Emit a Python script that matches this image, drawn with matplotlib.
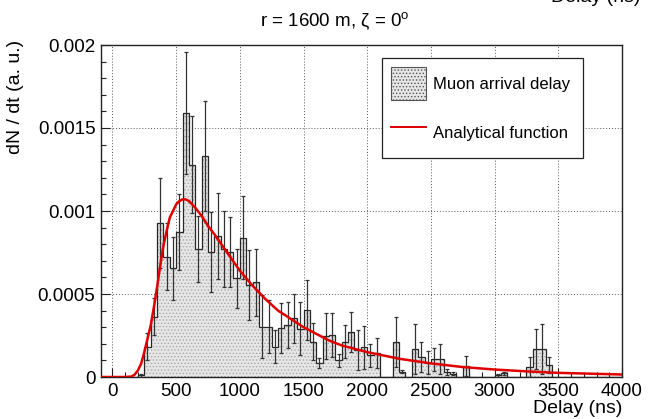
import numpy as np
import matplotlib
matplotlib.use("Agg")
import matplotlib.pyplot as plt
from matplotlib.ticker import MultipleLocator, FixedLocator
from matplotlib.patches import Patch
from matplotlib.lines import Line2D

plt.rcParams['font.family'] = ['Liberation Sans', 'DejaVu Sans']
plt.rcParams['hatch.linewidth'] = 0.6

# ---------------- data ----------------
bin_edges_start = 0
bin_width = 50
hist_values = [
    0, 0, 0, 0, 0.00001, 0.000183, 0.000363, 0.000926, 0.000725, 0.000655,   # 0-450
    0.000875, 0.00159, 0.00128, 0.00077, 0.00133, 0.000755, 0.00085, 0.00077, 0.000755, 0.000594,  # 500-950
    0.00084, 0.000554, 0.00057, 0.000303, 0.000303, 0.000183, 0.000293, 0.000313, 0.000353, 0.00029,  # 1000-1450
    0.000404, 0.000213, 0.000082, 0.000247, 0.000253, 0.0001, 0.000213, 0.000273, 0.000163, 0.000179,  # 1500-1950
    0.00013, 0.000146, 0, 0, 0.000213, 0.000032, 0, 0.000167, 0.000118, 0.000086,  # 2000-2450
    0.000106, 0.000106, 0.00003, 0.00002, 0, 0.000068, 0, 0, 0, 0,  # 2500-2950
    0.00001, 0.000022, 0, 0, 0, 0.000062, 0.000167, 0.000167, 0.000072, 0,  # 3000-3450
    0, 0, 0, 0, 0, 0, 0, 0, 0, 0,  # 3500-3950
]
hist_errors = [
    0, 0, 0, 0, 0.00001, 0.00008, 0.00011, 0.00027, 0.0002, 0.00019,
    0.00023, 0.00037, 0.00029, 0.0002, 0.00033, 0.00024, 0.00026, 0.00023, 0.00021, 0.00018,
    0.00025, 0.00021, 0.0002, 0.00019, 0.00016, 0.0001, 0.00015, 0.00014, 0.00015, 0.00016,
    0.00018, 0.00011, 0.00003, 0.00014, 0.00013, 0.00004, 0.0001, 0.00012, 0.00012, 0.00013,
    0.00007, 0.00009, 0, 0, 0.00015, 0.00001, 0, 0.00015, 0.00009, 0.00007,
    0.00007, 0.00009, 0.00002, 0.00001, 0, 0.00006, 0, 0, 0, 0,
    0.00001, 0.00001, 0, 0, 0, 0.00006, 0.00012, 0.00015, 0.00005, 0,
    0, 0, 0, 0, 0, 0, 0, 0, 0, 0,
]

func_t = [-100, 100, 150, 175, 200, 225, 250, 275, 300, 325, 350, 375, 400, 425, 450, 475,
          500, 525, 550, 575, 600, 650, 700, 750, 800, 900, 1000, 1100, 1200, 1300, 1400,
          1500, 1600, 1700, 1800, 1900, 2000, 2250, 2500, 2750, 3000, 3250, 3500, 3750, 4000]
func_v = [0, 0, 0.000003, 0.000015, 0.00004, 0.00008, 0.00015, 0.00023, 0.00031, 0.00042,
          0.00054, 0.00067, 0.00079, 0.00088, 0.00096, 0.001, 0.00104, 0.00106, 0.00107,
          0.00107, 0.00106, 0.00102, 0.00097, 0.00091, 0.00086, 0.00075, 0.00064, 0.00055,
          0.00047, 0.0004, 0.00035, 0.0003, 0.00026, 0.00022, 0.00019, 0.00017, 0.00015,
          0.00011, 0.000082, 0.00006, 0.000045, 0.000034, 0.000025, 0.00002, 0.000015]

x_ticks = [0, 500, 1000, 1500, 2000, 2500, 3000, 3500, 4000]
x_ticklabels = ["0", "500", "1000", "1500", "2000", "2500", "3000", "3500", "4000"]
y_ticks = [0, 0.0005, 0.001, 0.0015, 0.002]
y_ticklabels = ["0", "0.0005", "0.001", "0.0015", "0.002"]

title = "r = 1600 m, \u03b6 = 0$^{\\mathregular{o}}$"
xlabel = "Delay (ns)"
ylabel = "dN / dt (a. u.)"
legend_hist = "Muon arrival delay"
legend_func = "Analytical function"

# ---------------- figure ----------------
W, H = 648, 419
fig = plt.figure(figsize=(W / 100, H / 100), dpi=100)
ax = fig.add_axes([101 / W, 1 - 377 / H, (622 - 101) / W, (377 - 45) / H])

vals = np.array(hist_values)
errs = np.array(hist_errors)
edges = bin_edges_start + bin_width * np.arange(len(vals) + 1)
centers = 0.5 * (edges[:-1] + edges[1:])

# filled histogram with dotted pattern
ax.stairs(vals, edges, fill=True, facecolor='#e6e6e6', edgecolor='#a8a8a8',
          hatch='.....', linewidth=0, zorder=2)
# outline
ax.stairs(vals, edges, fill=False, color='#262626', linewidth=0.9, zorder=3,
          baseline=None)
# error bars
m = vals > 0
ax.errorbar(centers[m], vals[m], yerr=errs[m], fmt='none', ecolor='#333333',
            elinewidth=0.9, capsize=1.6, capthick=0.9, zorder=4)

# analytical function
ax.plot(func_t, func_v, color='#e00000', linewidth=1.8, zorder=5)

ax.set_xlim(-90, 4000)
ax.set_ylim(0, 0.002)

ax.xaxis.set_major_locator(FixedLocator(x_ticks))
ax.set_xticklabels(x_ticklabels)
ax.xaxis.set_minor_locator(MultipleLocator(100))
ax.yaxis.set_major_locator(FixedLocator(y_ticks))
ax.set_yticklabels(y_ticklabels)
ax.yaxis.set_minor_locator(MultipleLocator(0.0001))

ax.tick_params(which='both', direction='in', top=False, right=False,
               labelsize=13.5, width=0.8, color='#222222')
ax.tick_params(which='major', length=6.5)
ax.tick_params(which='minor', length=3.6)
ax.tick_params(axis='x', pad=4.5)
ax.tick_params(axis='y', pad=4)

ax.grid(True, which='major', color='#555555', linestyle=(0, (1, 2)), linewidth=0.7)
ax.set_axisbelow(True)
for s in ax.spines.values():
    s.set_linewidth(1.0)
    s.set_color('#222222')

# legend
handles = [Patch(facecolor='#e6e6e6', edgecolor='#555555', hatch='.....', linewidth=0.8),
           Line2D([0], [0], color='#e00000', linewidth=1.4)]
x0 = (381.7 - 101) / (622 - 101)
x1 = (583.3 - 101) / (622 - 101)
y_top = 1 - (58.3 - 45) / (377 - 45)
leg = ax.legend(handles, [legend_hist, legend_func], loc='upper left',
                bbox_to_anchor=(x0, y_top - 0.3, x1 - x0, 0.3), mode='expand',
                fontsize=12, frameon=True, fancybox=False, framealpha=1,
                edgecolor='#222222', borderpad=0.55, handlelength=2.1,
                handleheight=2.6, labelspacing=1.0, handletextpad=0.45,
                borderaxespad=0)
leg.get_frame().set_linewidth(0.9)
leg.set_zorder(10)

# texts
fig.text(335 / W, 1 - 22 / H, title, ha='center', va='center', fontsize=13.5)
fig.text(622 / W, 1 - 408 / H, xlabel, ha='right', va='center', fontsize=14)
fig.text(16 / W, 1 - 40 / H, ylabel, ha='center', va='top', rotation=90, fontsize=14)
fig.text(640 / W, 1 + 2 / H, xlabel, ha='right', va='center', fontsize=14)

fig.savefig("out.png", dpi=100)
